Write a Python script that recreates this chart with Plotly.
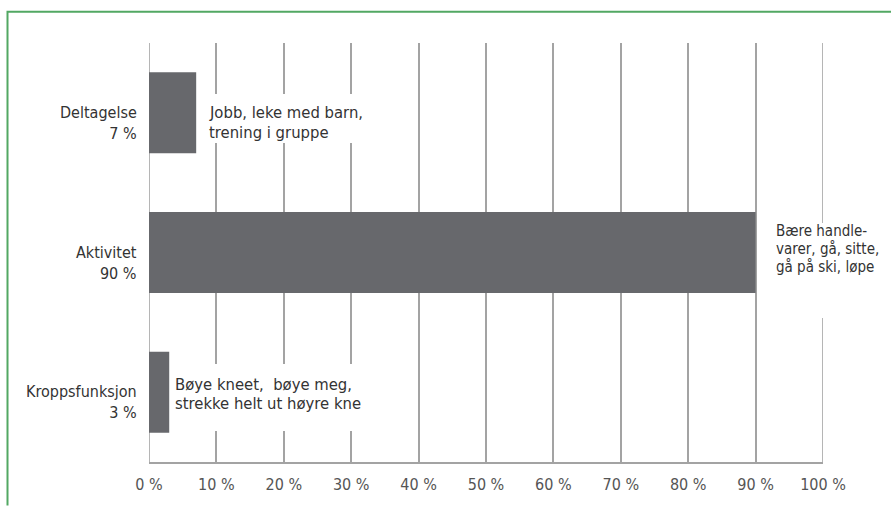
import plotly.graph_objects as go

# Share of items in each ICF component (percent)
categories = ["Kroppsfunksjon", "Aktivitet", "Deltagelse"]
values = [3, 90, 7]
cat_labels = ["Kroppsfunksjon<br>3 %", "Aktivitet<br>90 %", "Deltagelse<br>7 %"]
examples = [
    ["Bøye kneet,  bøye meg,", "strekke helt ut høyre kne"],
    ["Bære handle-", "varer, gå, sitte,", "gå på ski, løpe"],
    ["Jobb, leke med barn,", "trening i gruppe"],
]
tick_vals = list(range(0, 101, 10))
tick_text = [f"{v} %" for v in tick_vals]

W, H = 891, 506
ML, MR, MT, MB = 149, 68, 43, 39
FONT = "DejaVu Sans Condensed"
GRID = "#a3a3a3"
BAR = "#67686c"
TEXT = "#333333"

fig = go.Figure(
    go.Bar(
        x=values,
        y=categories,
        orientation="h",
        marker=dict(color=BAR, line=dict(width=0)),
        hoverinfo="skip",
    )
)

# gridlines at both ends of the axis (plotly skips the ones on the plot edge)
for v in (tick_vals[0], tick_vals[-1]):
    fig.add_shape(
        type="line", xref="x", yref="paper",
        x0=v, x1=v, y0=0, y1=1, layer="below",
        line=dict(color=GRID, width=1.6),
    )

# category labels to the left of the plot
for cat, lab in zip(categories, cat_labels):
    fig.add_annotation(
        x=0, y=cat, xref="x", yref="y",
        text=lab, showarrow=False,
        xanchor="right", yanchor="middle", align="right",
        xshift=-10, yshift=-10,
        font=dict(family=FONT, size=16, color=TEXT),
    )

# layout of the example text blocks (pixel offsets from the bar end / bar centre)
block_cfg = {
    "Kroppsfunksjon": dict(box=(3, 200, 67, -5), text_dx=6, size=16.5, lines_dy=[-8, 11.5]),
    "Aktivitet": dict(box=(12, 140, 95, -18), text_dx=20, size=15, lines_dy=[-21.5, -3.5, 14.5]),
    "Deltagelse": dict(box=(7, 162, 49, -6), text_dx=13, size=16.5, lines_dy=[0, 19.5]),
}
for cat, val, lines in zip(categories, values, examples):
    c = block_cfg[cat]
    bx, bw, bh, by = c["box"]
    # white box that interrupts the gridlines behind the text
    fig.add_annotation(
        x=val, y=cat, xref="x", yref="y",
        text=" ", showarrow=False,
        xanchor="left", yanchor="middle",
        xshift=bx, yshift=by, width=bw, height=bh,
        bgcolor="white", borderpad=0, borderwidth=0,
        font=dict(family=FONT, size=10),
    )
    for line, dy in zip(lines, c["lines_dy"]):
        fig.add_annotation(
            x=val, y=cat, xref="x", yref="y",
            text=line, showarrow=False,
            xanchor="left", yanchor="middle", align="left",
            xshift=c["text_dx"] - 1, yshift=-dy,
            borderpad=0,
            font=dict(family=FONT, size=c["size"], color=TEXT),
        )

# green frame along the top and left edge of the page
fx = (7.5 - ML) / (W - ML - MR)
fy_top = 1 + (MT - 11.5) / (H - MT - MB)
fy_bot = -(MB + 5) / (H - MT - MB)
fig.add_shape(
    type="path", xref="paper", yref="paper",
    path=f"M {fx} {fy_bot} L {fx} {fy_top} L 1.2 {fy_top}",
    line=dict(color="#52a863", width=2),
)

fig.update_layout(
    width=W, height=H,
    margin=dict(l=ML, r=MR, t=MT, b=MB),
    paper_bgcolor="white", plot_bgcolor="white",
    bargap=0.42,
    showlegend=False,
    xaxis=dict(
        range=[tick_vals[0], tick_vals[-1]],
        tickvals=tick_vals, ticktext=tick_text,
        showgrid=True, gridcolor=GRID, gridwidth=1.6,
        zeroline=False, showline=True, linecolor=GRID, linewidth=1.5,
        ticks="", ticklabelstandoff=7,
        tickfont=dict(family=FONT, size=16, color="#555555"),
        fixedrange=True,
    ),
    yaxis=dict(
        categoryorder="array", categoryarray=categories,
        range=[-0.5, 2.5], showticklabels=False,
        showgrid=False, zeroline=False, showline=False, ticks="",
        fixedrange=True,
    ),
)

fig.write_html("out.html", config={"displayModeBar": False})
